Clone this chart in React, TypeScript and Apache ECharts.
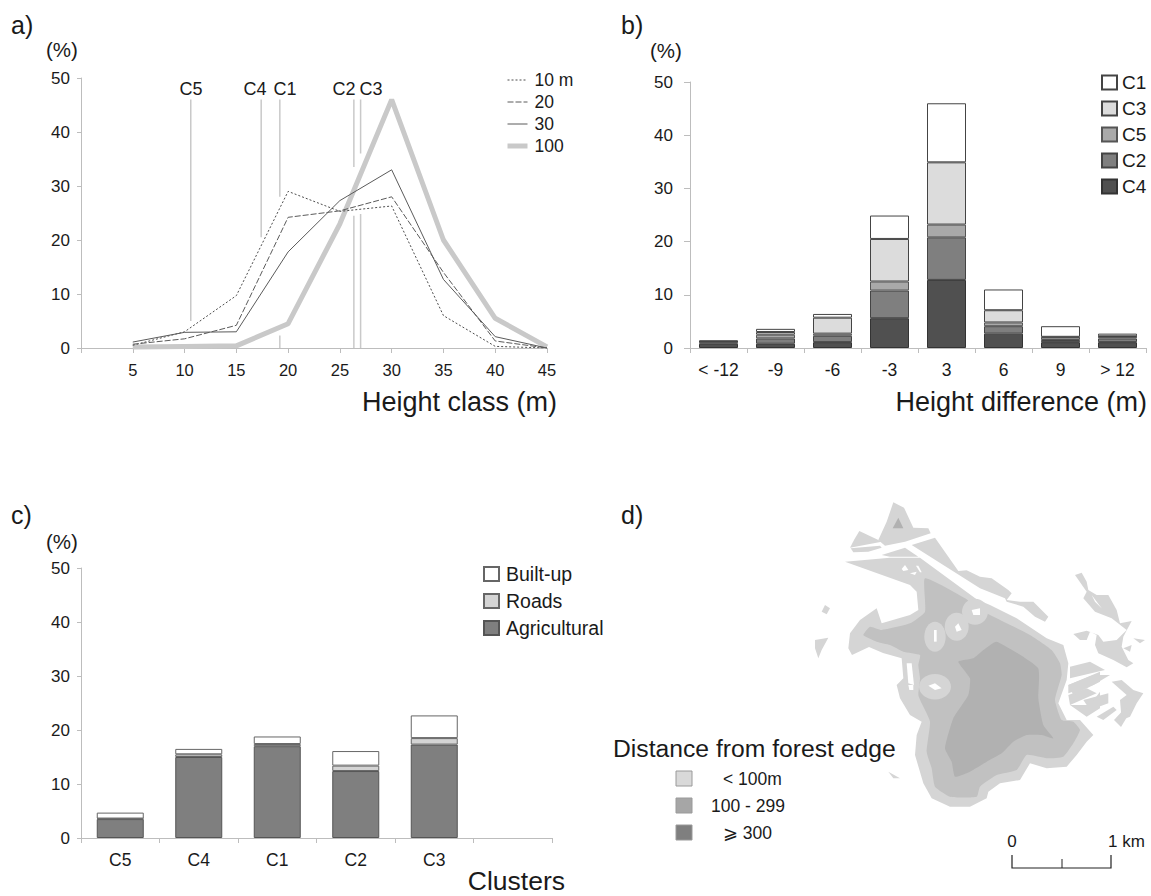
import React, { useEffect, useRef } from "react";
import * as echarts from "echarts";

const FONT = "Liberation Sans";
const TEXT = "#1a1a1a";

// a) height class distribution
const heightClasses = [5, 10, 15, 20, 25, 30, 35, 40, 45];
const h10 = [0.5, 3, 9.7, 29, 25.3, 26.3, 6, 0.3, 0];
const h20 = [0.7, 1.7, 4.2, 24.2, 25.4, 28, 14, 1.3, 0];
const h30 = [1.1, 2.9, 3, 17.8, 27.3, 33, 12.7, 2.1, 0];
const h100 = [0.2, 0.3, 0.4, 4.5, 23, 46, 20, 5.5, 0.2];
const clusterNames = ["C5", "C4", "C1", "C2", "C3"];
const clusterMeanHeight = [10.6, 17.4, 19.2, 26.35, 27];
const clusterSegments = [
  [46, 5],
  [46, 20.5],
  [46, 28, null, 2.3, 0],
  [46, 33.5, null, 24.5, 0],
  [46, 36, null, 24.8, 0],
];
const clusterLabelX = [191, 255, 285, 344, 371];

// b) height difference
const diffClasses = ["< -12", "-9", "-6", "-3", "3", "6", "9", "> 12"];
const diffC4 = [0.8, 0.8, 1.1, 5.6, 12.8, 2.7, 1.1, 1.1];
const diffC2 = [0.3, 1.0, 1.2, 5.2, 8.0, 1.4, 0.4, 0.7];
const diffC5 = [0.1, 0.7, 0.4, 1.7, 2.4, 0.7, 0.5, 0.3];
const diffC3 = [0.05, 0.5, 3.0, 8.0, 11.7, 2.3, 0.1, 0.1];
const diffC1 = [0.15, 0.6, 0.7, 4.4, 11.1, 3.9, 2.0, 0.5];

// c) land use per cluster
const clusterCats = ["C5", "C4", "C1", "C2", "C3", ""];
const agricultural = [3.5, 15, 17, 12.4, 17.3, null];
const roads = [0.1, 0.5, 0.4, 1.0, 1.2, null];
const builtUp = [1.1, 1.0, 1.4, 2.7, 4.2, null];

// d) map legend
const distanceClasses = ["< 100m", "100 - 299", "⩾ 300"];

// d) decorative map sketch, traced in three 3x crops of the picture
const LIGHT = "#d5d5d5";
const MID = "#c1c1c1";
const DARK = "#b1b1b1";
const A = (p: number[][]) => p.map(([x, y]) => [810 + x / 3, 495 + y / 3]);
const B = (p: number[][]) => p.map(([x, y]) => [980 + x / 3, 560 + y / 3]);
const D = (p: number[][]) => p.map(([x, y]) => [860 + x / 3, 655 + y / 3]);

const mapLight: number[][][] = [
  A([[250,22],[282,38],[310,98],[355,100],[362,115],[285,140],[225,152],[205,135],[230,80]]),
  A([[148,108],[205,135],[215,140],[120,158],[132,135]]),
  A([[122,160],[210,152],[215,158],[175,170],[130,172]]),
  A([[215,180],[285,158],[325,185],[240,185]]),
  [
    ...A([[305,150],[375,128],[445,228],[470,226],[510,245]]),
    ...B([[35,55],[85,90],[95,100],[80,120],[120,125],[160,125],[205,170],[195,185],[165,170],[130,140],[80,125],[75,115],[0,85]]),
  ],
  [
    ...A([[105,200],[240,188],[330,188],[510,320]]),
    ...B([[0,122],[30,135],[110,175],[200,235],[250,255],[265,310],[260,360],[235,430],[260,480]]),
    ...D([[660,195],[700,240],[680,260],[650,300],[620,335],[560,340],[510,325],[480,375],[420,385],[385,410],[380,430],[330,455],[270,455],[215,430],[190,385],[165,300],[170,240],[185,200],[150,180],[120,130],[110,90],[130,70],[125,10]]),
    [883,653],[869,647],[852,655],
    ...A([[115,460],[120,415],[150,375],[200,340],[215,385],[300,360],[325,345],[320,290],[300,270]]),
  ],
  B([[285,45],[305,38],[320,65],[325,90],[350,105],[385,105],[410,150],[420,190],[455,183],[430,230],[425,260],[445,300],[460,310],[440,322],[400,300],[355,280],[345,255],[350,225],[330,215],[320,240],[300,240],[280,222],[320,212],[355,225],[370,245],[410,240],[440,210],[395,175],[345,155],[310,115],[320,95]]),
  B([[460,235],[495,240],[480,250]]),
  B([[430,265],[455,255],[450,275]]),
  B([[270,320],[330,305],[375,330],[270,355]]),
  B([[265,375],[340,345],[390,345],[340,375],[265,400]]),
  B([[265,405],[320,385],[350,400],[270,435]]),
  B([[310,420],[385,400],[385,430],[330,450]]),
  B([[350,470],[400,440],[410,450],[370,480]]),
  B([[395,365],[425,360],[460,390],[490,400],[470,430],[450,470],[425,480],[420,420],[440,405]]),
  D([[625,90],[720,50],[720,80],[640,120]]),
  D([[630,150],[690,150],[720,110],[720,160],[680,185]]),
  [[1114,720],[1126,707],[1130,712],[1121,727]],
  D([[85,350],[120,370],[100,370]]),
  A([[45,330],[60,340],[50,358],[35,350]]),
  A([[15,435],[55,428],[35,465],[25,490],[15,460]]),
];
const mapMid: number[][] = [
  ...A([[345,250],[465,310],[510,345]]),
  ...B([[30,165],[150,225],[215,270],[240,310],[245,345],[225,420],[245,480]]),
  ...D([[640,200],[660,225],[640,265],[610,305],[560,310],[500,300],[470,345],[410,360],[360,395],[350,425],[270,425],[225,395],[215,340],[200,290],[210,200],[185,145],[175,120],[180,70],[175,30],[180,0]]),
  ...A([[280,470],[240,450],[200,440],[160,420],[180,395],[215,405],[300,385],[345,350]]),
];
const mapDark: number[][] = [
  ...D([[295,20],[340,10],[370,-15],[410,-40],[534,39],[535,130],[550,210],[580,250],[545,240],[500,240],[460,260],[425,295],[380,320],[330,350],[285,365],[275,320],[255,280],[280,190],[325,120],[330,70]]),
];
const mapDarkTop: number[][] = A([[265,68],[280,100],[248,100]]);
const mapBlobs = [
  [935, 636.7, 10.7, 15],
  [956.7, 626.7, 12, 14],
  [975, 611.7, 13, 13],
  [935, 686.7, 16, 12.7],
];
const mapHoles: number[][][] = [
  A([[372,405],[380,405],[380,440],[372,440]]),
  A([[435,395],[445,385],[455,405],[440,410]]),
  A([[485,345],[510,340],[510,360],[490,360]]),
  A([[275,222],[285,210],[295,225],[280,228]]),
  A([[300,235],[320,230],[315,240]]),
  A([[318,212],[325,212],[335,232],[330,232]]),
  D([[205,92],[225,85],[245,100],[225,105]]),
  D([[140,25],[155,25],[162,90],[145,85]]),
  D([[145,90],[160,90],[160,105],[148,105]]),
  B([[335,105],[365,145],[345,125]]),
];

const axisGrey = "#bdbdbd";

function textEl(text: string, x: number, y: number, fontSize: number, align = "left") {
  return {
    type: "text",
    x,
    y,
    style: { text, fontSize, fontFamily: FONT, fill: TEXT, textAlign: align, textVerticalAlign: "middle" },
  };
}

function yAxis(gridIndex: number, margin: number, tick: number) {
  return {
    type: "value",
    gridIndex,
    min: 0,
    max: 50,
    interval: 10,
    splitLine: { show: false },
    axisLine: { show: true, lineStyle: { color: axisGrey } },
    axisTick: { show: true, length: tick, lineStyle: { color: axisGrey } },
    axisLabel: { fontFamily: FONT, fontSize: 17, color: TEXT, margin },
  };
}

function catAxis(gridIndex: number, data: string[]) {
  return {
    type: "category",
    gridIndex,
    data,
    axisLine: { show: true, lineStyle: { color: axisGrey } },
    axisTick: { show: true, length: 5, alignWithLabel: false, lineStyle: { color: axisGrey } },
    axisLabel: { fontFamily: FONT, fontSize: 17.5, color: TEXT, margin: 13, interval: 0 },
  };
}

function lineSeries(name: string, values: number[], color: string, width: number, type: any) {
  return {
    name,
    type: "line",
    xAxisIndex: 0,
    yAxisIndex: 0,
    data: values.map((v, i) => [heightClasses[i], v]),
    symbol: "none",
    lineStyle: { color, width, type },
    itemStyle: { color },
  };
}

function barSeries(name: string, values: (number | null)[], axis: number, stack: string, color: string, barWidth: number, border: string) {
  return {
    name,
    type: "bar",
    stack,
    xAxisIndex: axis,
    yAxisIndex: axis,
    data: values,
    barWidth,
    itemStyle: { color, borderColor: border, borderWidth: 1 },
  };
}

function buildOption() {
  const clusterLines = clusterNames.map((name, i) => ({
    name: "Position " + name,
    type: "line",
    xAxisIndex: 0,
    yAxisIndex: 0,
    symbol: "none",
    lineStyle: { color: "#c9c9c9", width: 1.5 },
    itemStyle: { color: "#c9c9c9" },
    z: 1,
    data: clusterSegments[i].map((v) => [clusterMeanHeight[i], v]),
  }));

  const legendText = { fontFamily: FONT, color: TEXT };

  return {
    animation: false,
    backgroundColor: "#ffffff",
    grid: [
      { left: 81, top: 78, width: 466, height: 270 },
      { left: 690, top: 82, width: 456, height: 266 },
      { left: 81, top: 568, width: 471, height: 270 },
    ],
    xAxis: [
      {
        type: "value",
        gridIndex: 0,
        min: 0,
        max: 45,
        interval: 5,
        splitLine: { show: false },
        axisLine: { show: true, lineStyle: { color: axisGrey } },
        axisTick: { show: true, length: 5, lineStyle: { color: axisGrey } },
        axisLabel: {
          fontFamily: FONT,
          fontSize: 16.5,
          color: TEXT,
          margin: 13,
          formatter: (v: number) => (v === 0 ? "" : String(v)),
        },
      },
      catAxis(1, diffClasses),
      catAxis(2, clusterCats),
    ],
    yAxis: [yAxis(0, 11, 4), yAxis(1, 17, 6), yAxis(2, 11, 4)],
    legend: [
      {
        left: 500,
        top: 66,
        orient: "vertical",
        itemWidth: 20,
        itemHeight: 14,
        itemGap: 4,
        itemStyle: { opacity: 0 },
        lineStyle: { width: "inherit" },
        data: ["10 m", "20", "30", "100"],
        textStyle: { ...legendText, fontSize: 17.5, padding: [0, 0, 0, 2] },
      },
      {
        left: 1096,
        top: 68,
        orient: "vertical",
        icon: "rect",
        itemWidth: 15,
        itemHeight: 14,
        itemGap: 7,
        data: ["C1", "C3", "C5", "C2", "C4"],
        textStyle: { ...legendText, fontSize: 19, padding: [0, 0, 0, 0] },
      },
      {
        left: 478,
        top: 559,
        orient: "vertical",
        icon: "rect",
        itemWidth: 15,
        itemHeight: 14,
        itemGap: 7,
        data: ["Built-up", "Roads", "Agricultural"],
        textStyle: { ...legendText, fontSize: 19.5, padding: [0, 0, 0, 2] },
      },
    ],
    series: [
      ...clusterLines,
      { ...lineSeries("100", h100, "#c9c9c9", 5, "solid"), z: 2 },
      { ...lineSeries("10 m", h10, "#4d4d4d", 1, [2, 2]), z: 3 },
      { ...lineSeries("20", h20, "#5a5a5a", 1, [6, 2]), z: 3 },
      { ...lineSeries("30", h30, "#5a5a5a", 1, "solid"), z: 3 },

      barSeries("C4", diffC4, 1, "b", "#505050", 39, "#333333"),
      barSeries("C2", diffC2, 1, "b", "#7f7f7f", 39, "#444444"),
      barSeries("C5", diffC5, 1, "b", "#a9a9a9", 39, "#555555"),
      barSeries("C3", diffC3, 1, "b", "#dcdcdc", 39, "#444444"),
      barSeries("C1", diffC1, 1, "b", "#ffffff", 39, "#444444"),

      barSeries("Agricultural", agricultural, 2, "c", "#7f7f7f", 47, "#555555"),
      barSeries("Roads", roads, 2, "c", "#d4d4d4", 47, "#666666"),
      barSeries("Built-up", builtUp, 2, "c", "#ffffff", 47, "#666666"),
    ],
    graphic: [
      textEl("a)", 11, 25, 25),
      textEl("b)", 621, 25, 25),
      textEl("c)", 11, 515, 25),
      textEl("d)", 621, 515, 25),
      textEl("(%)", 46, 49, 20.5),
      textEl("(%)", 650, 50, 20.5),
      textEl("(%)", 46, 541, 20.5),
      ...clusterNames.map((name, i) => textEl(name, clusterLabelX[i], 89, 18, "center")),
      textEl("Height class (m)", 557, 402, 27, "right"),
      textEl("Height difference (m)", 1147, 402, 27, "right"),
      textEl("Clusters", 565, 881, 26.5, "right"),
      ...mapLight.map((points) => ({ type: "polygon", shape: { points }, style: { fill: LIGHT } })),
      { type: "polygon", shape: { points: mapMid, smooth: 0.15 }, style: { fill: MID } },
      { type: "polygon", shape: { points: mapDark, smooth: 0.15 }, style: { fill: DARK } },
      { type: "polygon", shape: { points: mapDarkTop }, style: { fill: DARK } },
      ...mapBlobs.map(([cx, cy, rx, ry]) => ({ type: "ellipse", shape: { cx, cy, rx, ry }, style: { fill: LIGHT } })),
      ...mapHoles.map((points) => ({ type: "polygon", shape: { points }, style: { fill: "#ffffff" } })),
      textEl("Distance from forest edge", 613, 748, 24.7),
      ...distanceClasses.map((label, i) => ({
        type: "rect",
        shape: { x: 676, y: 771 + i * 27, width: 16, height: 15 },
        style: { fill: ["#d9d9d9", "#a6a6a6", "#7f7f7f"][i], stroke: "#9a9a9a", lineWidth: 1 },
      })),
      textEl(distanceClasses[0], 723, 779, 17.5),
      textEl(distanceClasses[1], 711, 806, 17.5),
      textEl(distanceClasses[2], 723, 833, 17.5),
      textEl("0", 1012, 841, 17, "center"),
      textEl("1 km", 1108, 841, 17),
      { type: "polyline", shape: { points: [[1012, 855], [1012, 868], [1111, 868], [1111, 855]] }, style: { stroke: "#222222", lineWidth: 1.2, fill: "none" } },
      { type: "line", shape: { x1: 1062, y1: 859, x2: 1062, y2: 868 }, style: { stroke: "#222222", lineWidth: 1 } },
    ],
  };
}

export default function App() {
  const ref = useRef<HTMLDivElement>(null);
  useEffect(() => {
    document.body.style.margin = "0";
    const chart = echarts.init(ref.current!, null, { renderer: "svg" });
    chart.setOption(buildOption() as any);
    return () => chart.dispose();
  }, []);
  return <div ref={ref} style={{ width: 1151, height: 896 }} />;
}
